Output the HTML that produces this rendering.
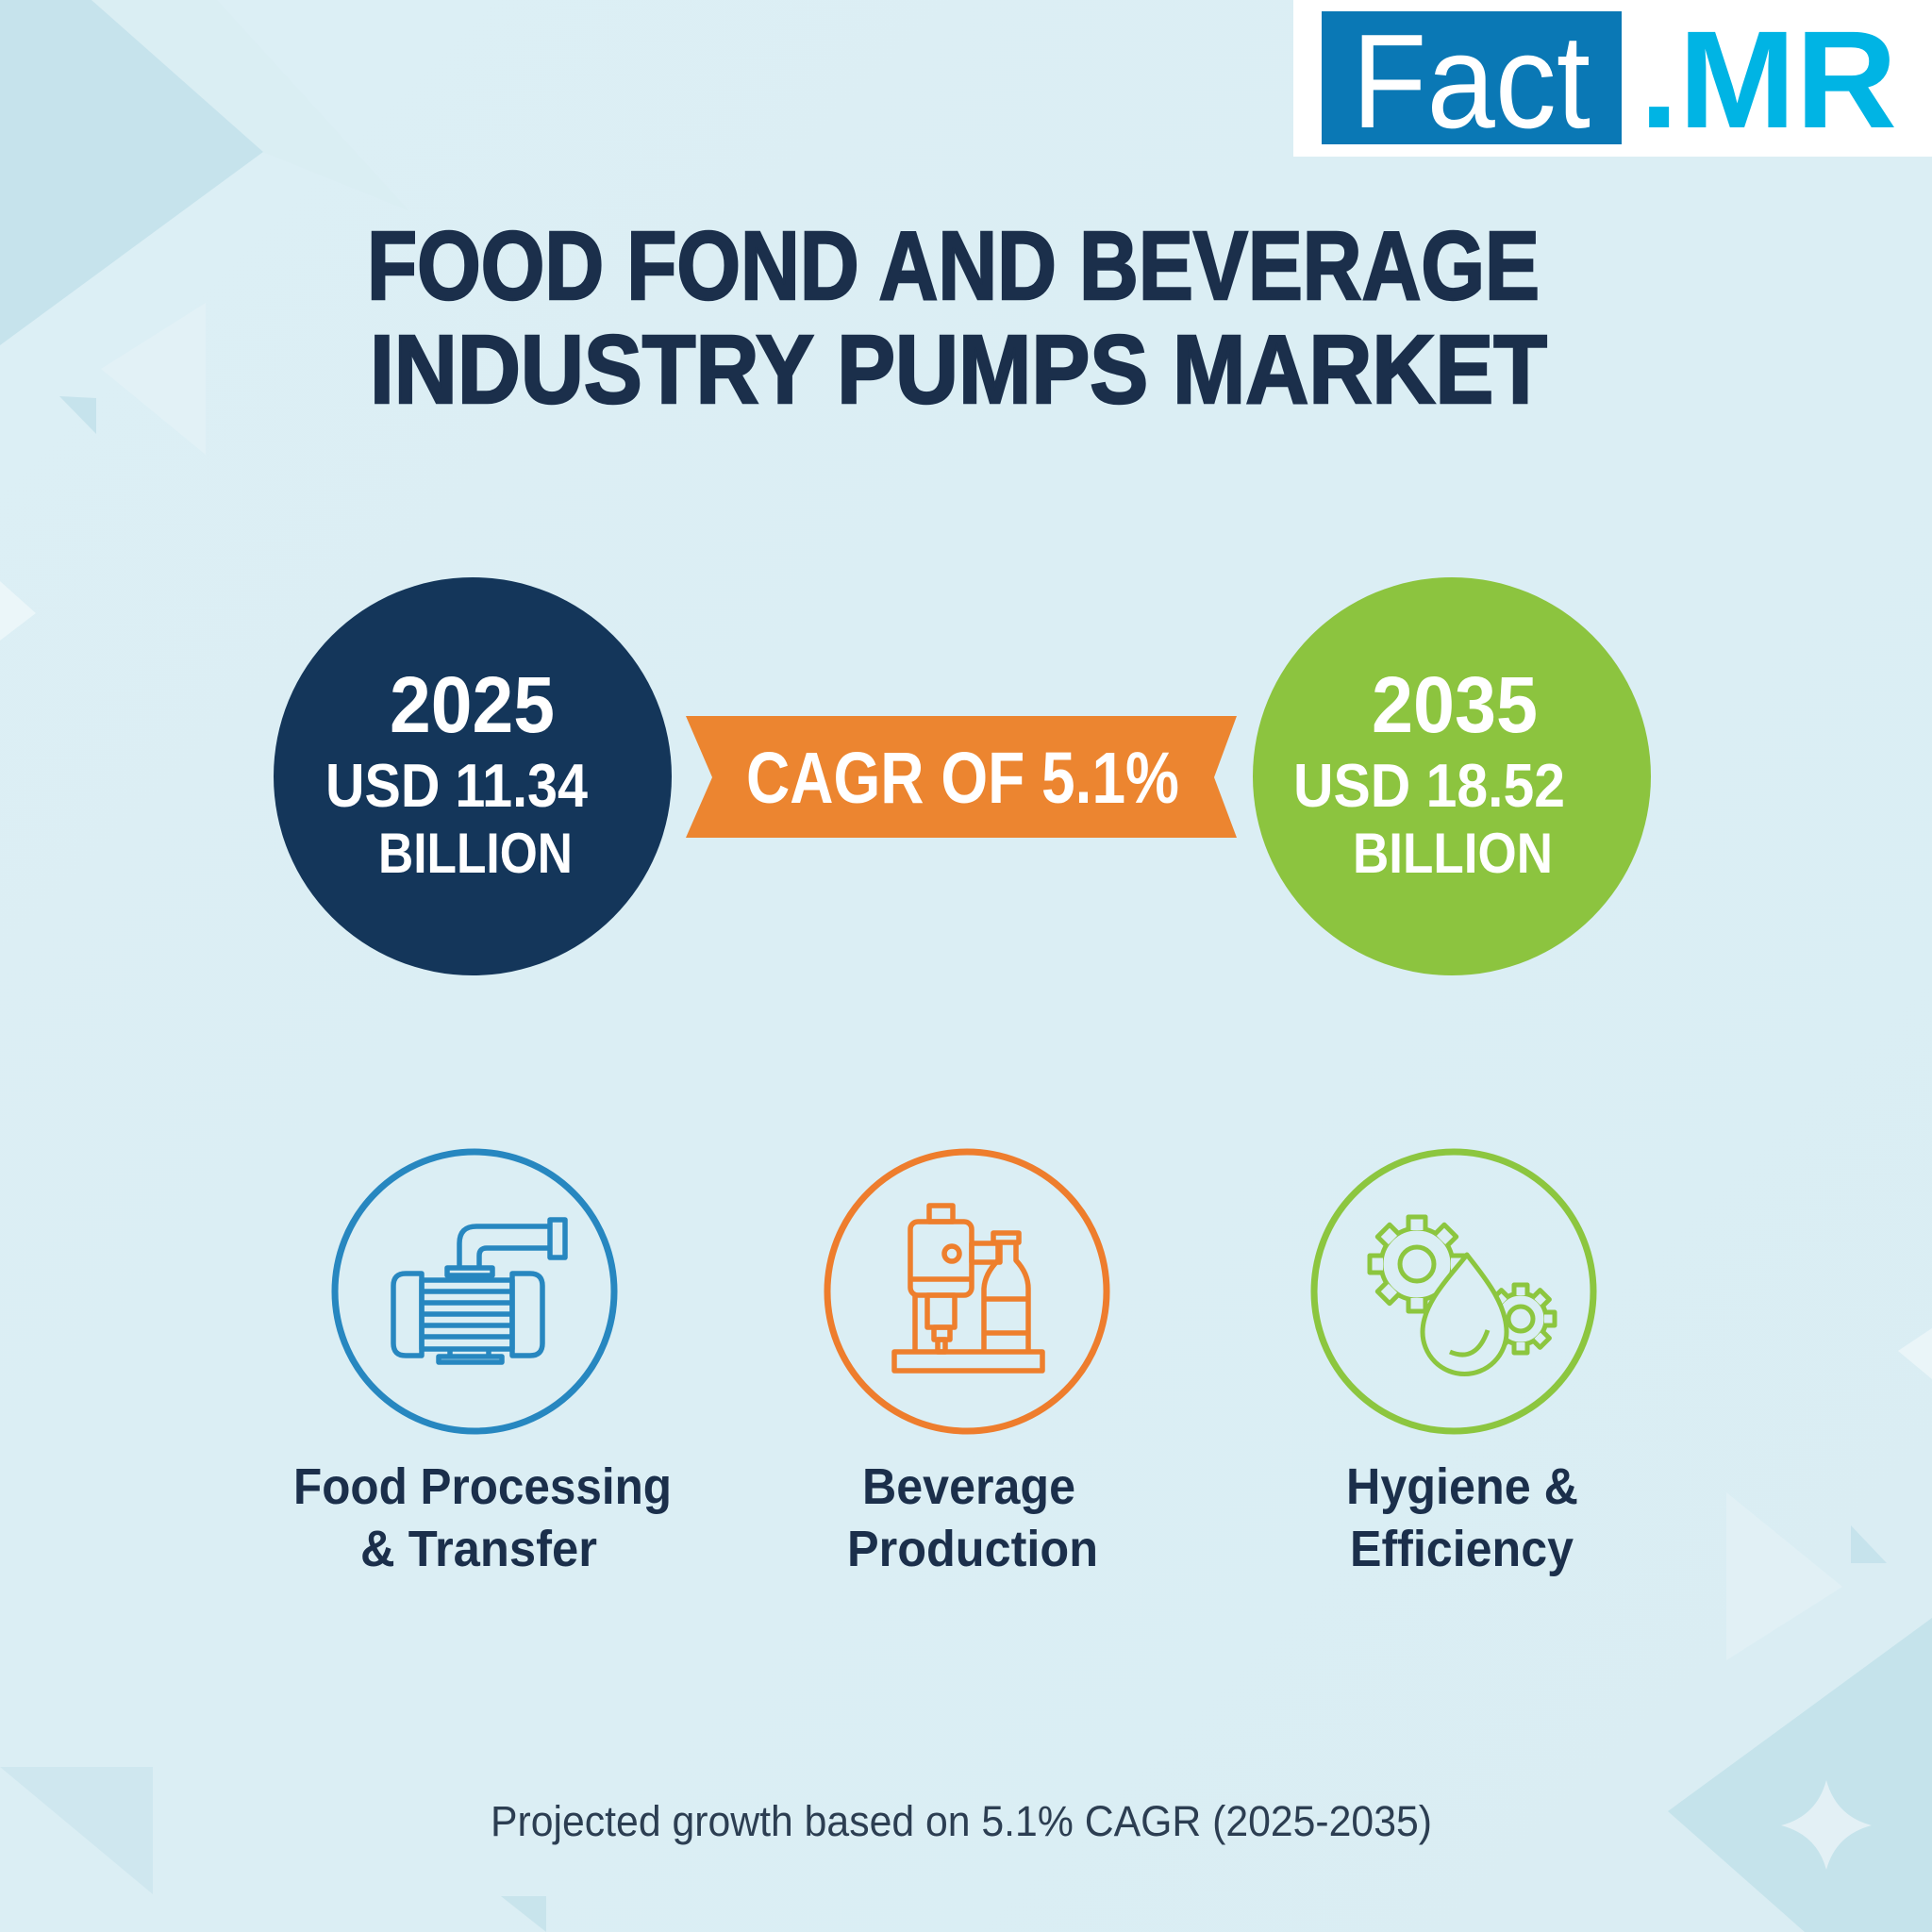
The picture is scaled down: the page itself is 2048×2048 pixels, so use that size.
<!DOCTYPE html>
<html>
<head>
<meta charset="utf-8">
<style>
  html, body { margin: 0; padding: 0; background: #dbeef4; }
  svg { display: block; }
</style>
</head>
<body>
<svg width="2048" height="2048" viewBox="0 0 2048 2048" xmlns="http://www.w3.org/2000/svg">
  <defs>
    <linearGradient id="bg" x1="0" y1="0" x2="1" y2="1">
      <stop offset="0" stop-color="#dceff5"/>
      <stop offset="1" stop-color="#daedf3"/>
    </linearGradient>
  </defs>
  <rect x="0" y="0" width="2048" height="2048" fill="url(#bg)"/>

  <!-- decorative background shapes -->
  <polygon points="0,0 97,0 279,161 0,366" fill="#c6e3ec"/>
  <polygon points="97,0 230,0 433,223 279,161" fill="#d8ecf2" opacity="0.6"/>
  <polygon points="63,420 102,422 102,460" fill="#c6e3ec"/>
  <polygon points="107,391 218,321 218,482" fill="#e2f1f6"/>
  <polygon points="0,616 38,650 0,679" fill="#ebf6f9"/>
  <polygon points="2012,1432 2048,1408 2048,1462" fill="#eaf5f8"/>
  <polygon points="1830,1582 1953,1682 1830,1760" fill="#e1f0f5"/>
  <polygon points="1962,1617 2000,1657 1962,1657" fill="#c6e3ec"/>
  <polygon points="1768,1920 2048,1715 2048,2048 1913,2048" fill="#c5e3eb"/>
  <path d="M1936,1887 Q1946,1925 1984,1935 Q1946,1945 1936,1982 Q1926,1945 1888,1935 Q1926,1925 1936,1887 Z" fill="#e3f0f5"/>
  <polygon points="0,1873 162,1873 162,2008" fill="#cfe7ef"/>
  <polygon points="531,2010 579,2010 579,2048" fill="#c8e4ec"/>

  <!-- logo -->
  <rect x="1371" y="0" width="677" height="166" fill="#ffffff"/>
  <rect x="1401" y="12" width="318" height="141" fill="#0a78b5"/>
  <text x="1433" y="135" font-family="Liberation Sans, sans-serif" font-size="142" fill="#ffffff" textLength="253" lengthAdjust="spacingAndGlyphs">Fact</text>
  <text x="1738" y="135" font-family="Liberation Sans, sans-serif" font-weight="bold" font-size="147" fill="#00b4e4" textLength="273" lengthAdjust="spacingAndGlyphs">.MR</text>

  <!-- title -->
  <g font-family="Liberation Sans, sans-serif" font-weight="bold" font-size="103" fill="#1b2f4b" stroke="#1b2f4b" stroke-width="2.5">
    <text x="389" y="317" textLength="1243" lengthAdjust="spacingAndGlyphs">FOOD FOND AND BEVERAGE</text>
    <text x="392" y="427" textLength="1248" lengthAdjust="spacingAndGlyphs">INDUSTRY PUMPS MARKET</text>
  </g>

  <!-- ribbon -->
  <polygon points="727,759 1311,759 1287,824 1311,888 727,888 755,824" fill="#ec8530"/>
  <text x="791" y="851" font-family="Liberation Sans, sans-serif" font-weight="bold" font-size="77" fill="#ffffff" textLength="459" lengthAdjust="spacingAndGlyphs">CAGR OF 5.1%</text>

  <!-- circles -->
  <circle cx="501" cy="823" r="211" fill="#14365a"/>
  <circle cx="1539" cy="823" r="211" fill="#8cc43f"/>
  <g font-family="Liberation Sans, sans-serif" font-weight="bold" fill="#ffffff">
    <text x="413" y="776" font-size="84" textLength="175" lengthAdjust="spacingAndGlyphs">2025</text>
    <text x="345" y="855" font-size="65" textLength="278" lengthAdjust="spacingAndGlyphs">USD 11.34</text>
    <text x="401" y="925" font-size="60" textLength="206" lengthAdjust="spacingAndGlyphs">BILLION</text>
    <text x="1454" y="776" font-size="84" textLength="176" lengthAdjust="spacingAndGlyphs">2035</text>
    <text x="1371" y="855" font-size="65" textLength="288" lengthAdjust="spacingAndGlyphs">USD 18.52</text>
    <text x="1434" y="925" font-size="60" textLength="212" lengthAdjust="spacingAndGlyphs">BILLION</text>
  </g>

  <!-- icon rings -->
  <circle cx="503" cy="1369" r="148" fill="none" stroke="#2787c0" stroke-width="7"/>
  <circle cx="1025" cy="1369" r="148" fill="none" stroke="#ee7d2d" stroke-width="7"/>
  <circle cx="1541" cy="1369" r="148" fill="none" stroke="#8cc63f" stroke-width="7"/>

  <!-- pump icon -->
  <g fill="none" stroke="#2787c0" stroke-width="5.5" stroke-linejoin="round">
    <path d="M447,1350 H430 Q417,1350 417,1363 V1424 Q417,1437 430,1437 H447 Z"/>
    <path d="M543,1350 H562 Q575,1350 575,1363 V1424 Q575,1437 562,1437 H543 Z"/>
    <rect x="447" y="1357" width="96" height="73"/>
    <line x1="447" y1="1369" x2="543" y2="1369"/>
    <line x1="447" y1="1381" x2="543" y2="1381"/>
    <line x1="447" y1="1393" x2="543" y2="1393"/>
    <line x1="447" y1="1405" x2="543" y2="1405"/>
    <line x1="447" y1="1417" x2="543" y2="1417"/>
    <rect x="474" y="1344" width="48" height="8"/>
    <line x1="487" y1="1352" x2="487" y2="1357"/>
    <line x1="510" y1="1352" x2="510" y2="1357"/>
    <path d="M487,1344 V1318 Q487,1300 505,1300 H583"/>
    <path d="M508,1344 V1331 Q508,1323 516,1323 H583"/>
    <rect x="583" y="1293" width="16" height="40"/>
    <line x1="477" y1="1430" x2="477" y2="1438"/>
    <line x1="518" y1="1430" x2="518" y2="1438"/>
    <rect x="465" y="1438" width="67" height="6"/>
  </g>

  <!-- beverage icon -->
  <g fill="none" stroke="#ee7f2d" stroke-width="5.5" stroke-linejoin="round">
    <rect x="985" y="1278" width="25" height="17"/>
    <rect x="965" y="1295" width="65" height="78" rx="8"/>
    <line x1="965" y1="1356" x2="1030" y2="1356"/>
    <circle cx="1009" cy="1329" r="8"/>
    <rect x="1030" y="1318" width="30" height="20"/>
    <rect x="983" y="1373" width="29" height="34"/>
    <rect x="990" y="1407" width="17" height="13"/>
    <rect x="994" y="1420" width="8" height="13"/>
    <line x1="970" y1="1373" x2="970" y2="1433"/>
    <rect x="1053" y="1307" width="27" height="10"/>
    <path d="M1058,1317 V1336 Q1044,1350 1043,1366 V1433 M1077,1317 V1336 Q1090,1350 1090,1366 V1433"/>
    <line x1="1043" y1="1377" x2="1090" y2="1377"/>
    <line x1="1043" y1="1413" x2="1090" y2="1413"/>
    <rect x="948" y="1433" width="157" height="20"/>
  </g>

  <!-- hygiene icon -->
  <g stroke="#8cc63f" stroke-width="5" stroke-linejoin="round" fill="#dbeef4">
    <!-- small gear (behind drop) -->
    <g transform="translate(1612,1398)">
      <circle cx="0" cy="0" r="27" fill="none"/>
      <g transform="rotate(0)"><path d="M-7,-25 L-7,-36 L7,-36 L7,-25"/></g>
      <g transform="rotate(45)"><path d="M-7,-25 L-7,-36 L7,-36 L7,-25"/></g>
      <g transform="rotate(90)"><path d="M-7,-25 L-7,-36 L7,-36 L7,-25"/></g>
      <g transform="rotate(135)"><path d="M-7,-25 L-7,-36 L7,-36 L7,-25"/></g>
      <g transform="rotate(180)"><path d="M-7,-25 L-7,-36 L7,-36 L7,-25"/></g>
      <g transform="rotate(225)"><path d="M-7,-25 L-7,-36 L7,-36 L7,-25"/></g>
      <g transform="rotate(270)"><path d="M-7,-25 L-7,-36 L7,-36 L7,-25"/></g>
      <g transform="rotate(315)"><path d="M-7,-25 L-7,-36 L7,-36 L7,-25"/></g>
      <circle cx="0" cy="0" r="13" fill="none"/>
    </g>
    <!-- big gear -->
    <g transform="translate(1502,1340)">
      <circle cx="0" cy="0" r="38" fill="none"/>
      <g transform="rotate(0)"><path d="M-9,-36 L-9,-50 L9,-50 L9,-36"/></g>
      <g transform="rotate(45)"><path d="M-9,-36 L-9,-50 L9,-50 L9,-36"/></g>
      <g transform="rotate(90)"><path d="M-9,-36 L-9,-50 L9,-50 L9,-36"/></g>
      <g transform="rotate(135)"><path d="M-9,-36 L-9,-50 L9,-50 L9,-36"/></g>
      <g transform="rotate(180)"><path d="M-9,-36 L-9,-50 L9,-50 L9,-36"/></g>
      <g transform="rotate(225)"><path d="M-9,-36 L-9,-50 L9,-50 L9,-36"/></g>
      <g transform="rotate(270)"><path d="M-9,-36 L-9,-50 L9,-50 L9,-36"/></g>
      <g transform="rotate(315)"><path d="M-9,-36 L-9,-50 L9,-50 L9,-36"/></g>
      <circle cx="0" cy="0" r="18" fill="none"/>
    </g>
    <!-- drop -->
    <path d="M1555,1330 C1570,1350 1597,1380 1597,1412 A44.5,44.5 0 0 1 1508,1412 C1508,1380 1540,1350 1555,1330 Z"/>
    <path d="M1537,1433 Q1565,1445 1577,1410" fill="none"/>
  </g>

  <!-- labels -->
  <g font-family="Liberation Sans, sans-serif" font-weight="bold" font-size="54" fill="#1b2f4b">
    <text x="311" y="1594" textLength="401" lengthAdjust="spacingAndGlyphs">Food Processing</text>
    <text x="382" y="1660" textLength="251" lengthAdjust="spacingAndGlyphs">&amp; Transfer</text>
    <text x="914" y="1594" textLength="226" lengthAdjust="spacingAndGlyphs">Beverage</text>
    <text x="898" y="1660" textLength="266" lengthAdjust="spacingAndGlyphs">Production</text>
    <text x="1427" y="1594" textLength="246" lengthAdjust="spacingAndGlyphs">Hygiene &amp;</text>
    <text x="1431" y="1660" textLength="237" lengthAdjust="spacingAndGlyphs">Efficiency</text>
  </g>

  <!-- footer -->
  <text x="520" y="1946" font-family="Liberation Sans, sans-serif" font-size="45" fill="#2c3e52" textLength="998" lengthAdjust="spacingAndGlyphs">Projected growth based on 5.1% CAGR (2025-2035)</text>
</svg>
</body>
</html>
